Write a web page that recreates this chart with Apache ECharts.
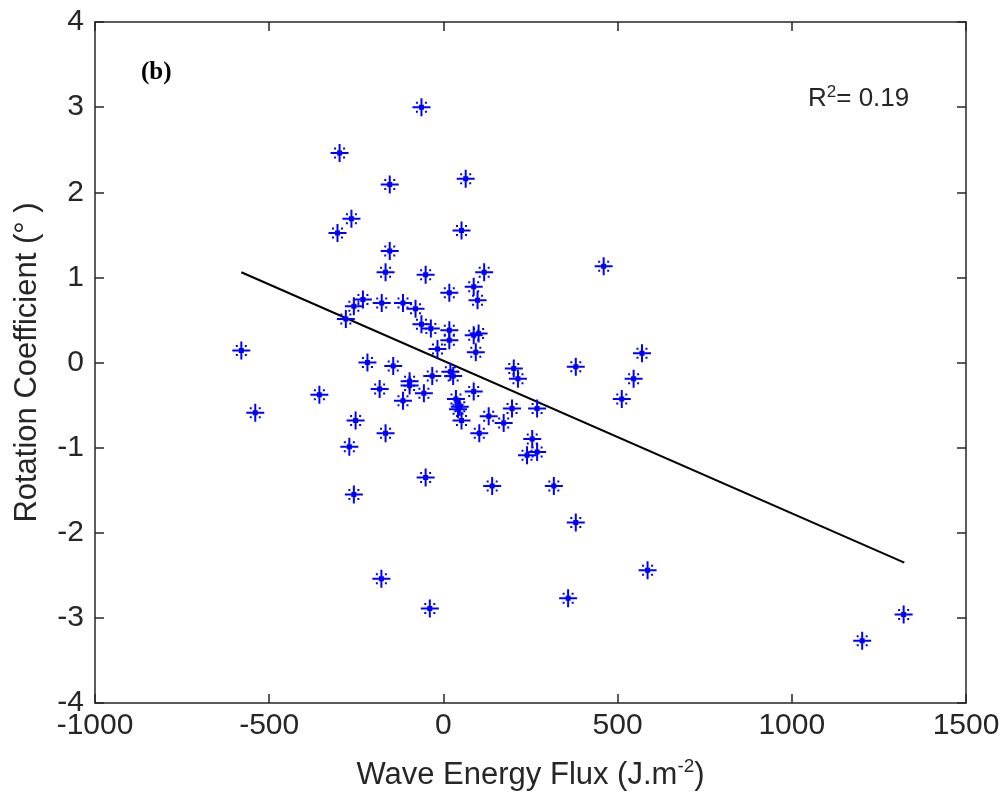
<!DOCTYPE html>
<html>
<head>
<meta charset="utf-8">
<script src="https://cdn.jsdelivr.net/npm/echarts@6/dist/echarts.min.js"></script>
<style>html,body{margin:0;padding:0;background:#fff}#c{width:1007px;height:798px}</style>
</head>
<body>
<div id="c"></div>
<script>
// Observations: wave energy flux (x) vs rotation coefficient (y)
var fluxX = [-580,-540,-356,-298,-304,-264,-280,-257,-231,-270,-252,-257,-218,-177,-166,-154,-154,-183,-166,-178,
  -144,-116,-116,-97,-97,-80,-63,-51,-63,-56,-51,-39,-36,-32,-17,17,17,17,20,28,
  36,47,42,52,52,64,87,98,87,101,93,87,103,117,130,140,173,197,202,214,
  240,255,269,269,317,358,380,380,460,512,546,570,586,1202,1321];
var rotY = [0.14,-0.59,-0.38,2.46,1.52,1.69,0.51,0.66,0.74,-0.99,-0.68,-1.55,0.00,0.70,1.06,2.09,1.31,-0.31,-0.83,-2.54,
  -0.04,0.70,-0.45,-0.22,-0.27,0.63,3.00,1.03,0.45,-0.36,-1.35,-2.89,0.40,-0.16,0.16,0.82,0.38,0.26,-0.11,-0.16,
  -0.43,-0.52,-0.55,-0.68,1.55,2.16,0.89,0.73,0.32,0.34,0.12,-0.34,-0.83,1.06,-0.63,-1.45,-0.71,-0.54,-0.07,-0.19,
  -1.09,-0.90,-1.05,-0.54,-1.45,-2.77,-0.05,-1.88,1.13,-0.43,-0.19,0.11,-2.44,-3.27,-2.96];
// Regression line end points
var fitX = [-580, 1323];
var fitY = [1.06, -2.35];
var xTicks = {min: -1000, max: 1500, interval: 500};
var yTicks = {min: -4, max: 4, interval: 1};
var r2Label = '0.19';
var panelLabel = '(b)';

var pts = fluxX.map(function (x, i) { return [x, rotY[i]]; });
var fit = fitX.map(function (x, i) { return [x, fitY[i]]; });

var star = 'path://M8,0L10,0L10,6.5L11.5,6.5L11.5,8L18,8L18,10L11.5,10L11.5,11.5L10,11.5L10,18L8,18L8,11.5L6.5,11.5L6.5,10L0,10L0,8L6.5,8L6.5,6.5L8,6.5Z' +
  ' M3.5,3.5L5.5,3.5L5.5,5.5L3.5,5.5Z M12.5,3.5L14.5,3.5L14.5,5.5L12.5,5.5Z' +
  ' M3.5,12.5L5.5,12.5L5.5,14.5L3.5,14.5Z M12.5,12.5L14.5,12.5L14.5,14.5L12.5,14.5Z';
var font = '"Liberation Sans", Arial, Helvetica, sans-serif';
var axisLine = {show: true, onZero: false, lineStyle: {color: '#262626', width: 1.5}};
var tick = {show: true, inside: true, length: 9, lineStyle: {color: '#262626', width: 1.5}};
var plain = function (v) { return String(v); };

var chart = echarts.init(document.getElementById('c'), null, {renderer: 'canvas'});
chart.setOption({
  animation: false,
  backgroundColor: '#fff',
  grid: {left: 95, right: 41, top: 22, bottom: 94, containLabel: false},
  xAxis: [{
    type: 'value', position: 'bottom', min: xTicks.min, max: xTicks.max, interval: xTicks.interval,
    axisLine: axisLine, axisTick: tick, splitLine: {show: false},
    axisLabel: {color: '#262626', fontSize: 30, fontFamily: font, margin: 8, formatter: plain},
    name: 'Wave Energy Flux (J.m{sup|-2})', nameLocation: 'middle', nameGap: 54,
    nameTextStyle: {color: '#262626', fontSize: 31, fontFamily: font, lineHeight: 36,
      rich: {sup: {fontSize: 19, fontFamily: font, color: '#262626', lineHeight: 22, verticalAlign: 'top'}}}
  }, {
    type: 'value', position: 'top', min: xTicks.min, max: xTicks.max, interval: xTicks.interval,
    axisLine: axisLine, axisTick: tick, axisLabel: {show: false}, splitLine: {show: false}
  }],
  yAxis: [{
    type: 'value', position: 'left', min: yTicks.min, max: yTicks.max, interval: yTicks.interval,
    axisLine: axisLine, axisTick: tick, splitLine: {show: false},
    axisLabel: {color: '#262626', fontSize: 30, fontFamily: font, margin: 11, formatter: plain},
    name: 'Rotation Coefficient (° )', nameLocation: 'middle', nameGap: 52,
    nameTextStyle: {color: '#262626', fontSize: 31, fontFamily: font}
  }, {
    type: 'value', position: 'right', min: yTicks.min, max: yTicks.max, interval: yTicks.interval,
    axisLine: axisLine, axisTick: tick, axisLabel: {show: false}, splitLine: {show: false}
  }],
  series: [{
    type: 'line', data: fit, showSymbol: false, symbol: 'none',
    lineStyle: {color: '#000', width: 2}, z: 2, silent: true
  }, {
    type: 'scatter', data: pts, symbol: star, symbolSize: 18,
    itemStyle: {color: '#0000ff', opacity: 1}, z: 3, silent: true
  }],
  graphic: [{
    type: 'text', left: 141, top: 60,
    style: {text: panelLabel, fontFamily: '"Liberation Serif", "Times New Roman", serif', fontWeight: 'bold', fontSize: 25, fill: '#000'}
  }, {
    type: 'text', left: 808, top: 84,
    style: {text: 'R{sup|2}= ' + r2Label, fontFamily: font, fontSize: 26, fill: '#262626', lineHeight: 30,
      rich: {sup: {fontSize: 17, fontFamily: font, fill: '#262626', lineHeight: 18, verticalAlign: 'top'}}}
  }]
});
</script>
</body>
</html>
